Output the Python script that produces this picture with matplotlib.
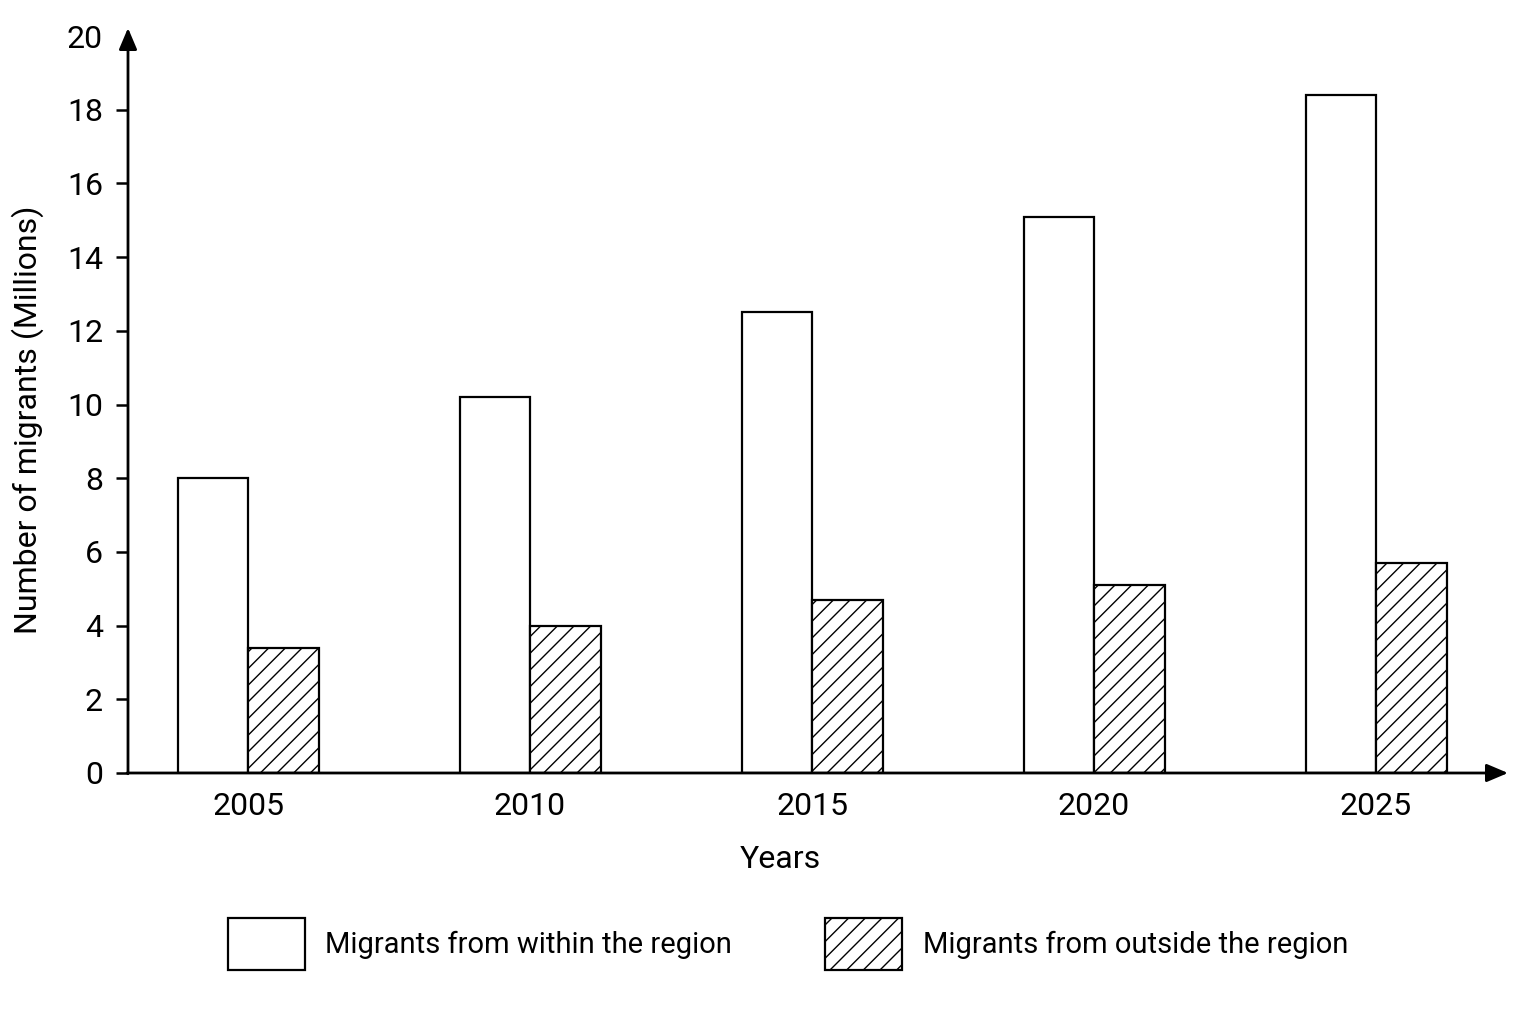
import matplotlib
matplotlib.use("Agg")
import matplotlib.pyplot as plt
from matplotlib.patches import Patch
import numpy as np

years = ["2005", "2010", "2015", "2020", "2025"]
within_region = [8.0, 10.2, 12.5, 15.1, 18.4]
outside_region = [3.4, 4.0, 4.7, 5.1, 5.7]
y_ticks = [0, 2, 4, 6, 8, 10, 12, 14, 16, 18, 20]

plt.rcParams['font.family'] = ['Roboto', 'DejaVu Sans']
plt.rcParams['hatch.linewidth'] = 1.0
plt.rcParams['hatch.color'] = 'black'

W, H = 1536, 1024
fig = plt.figure(figsize=(W / 100, H / 100), dpi=100)

left_px, right_px = 128, 1508
top_px, bottom_px = 28, 773
ax = fig.add_axes([left_px / W, (H - bottom_px) / H,
                   (right_px - left_px) / W, (bottom_px - top_px) / H])

x = np.arange(len(years))
w = 0.25
ax.bar(x - w / 2, within_region, width=w, facecolor='white', edgecolor='black', linewidth=1.6,
       label='Migrants from within the region', zorder=3)
ax.bar(x + w / 2, outside_region, width=w, facecolor='white', edgecolor='black', linewidth=1.6,
       hatch='//', label='Migrants from outside the region', zorder=3)

x0_px, dx_px = 248, 282
ax.set_xlim((left_px - x0_px) / dx_px, (right_px - x0_px) / dx_px)
y20_px = 36
ax.set_ylim(0, 20 * (bottom_px - top_px) / (bottom_px - y20_px))

ax.set_xticks(x)
ax.set_xticklabels(years, fontsize=23)
ax.set_yticks(y_ticks)
ax.set_yticklabels([str(v) for v in y_ticks], fontsize=23)
ax.tick_params(axis='x', length=0, pad=14)
ax.tick_params(axis='y', length=9, width=1.8, pad=9, direction='out')
ax.yaxis.get_major_ticks()[-1].tick1line.set_visible(False)

for s in ax.spines.values():
    s.set_visible(False)

arrow_kw = dict(arrowstyle='-|>,head_length=1.3,head_width=0.55', color='black', lw=2.0,
                shrinkA=0, shrinkB=0)
ax.annotate('', xy=(0, 1), xytext=(0, -0.001), xycoords='axes fraction',
            arrowprops=arrow_kw, annotation_clip=False, zorder=5)
ax.annotate('', xy=(1, 0), xytext=(-0.0007, 0), xycoords='axes fraction',
            arrowprops=arrow_kw, annotation_clip=False, zorder=5)

ax.set_xlabel('Years', fontsize=23)
ax.xaxis.set_label_coords((780 - left_px) / (right_px - left_px), -(860 - bottom_px) / (bottom_px - top_px))
ax.xaxis.label.set_verticalalignment('center')
ax.set_ylabel('Number of migrants (Millions)', fontsize=23)
ax.yaxis.set_label_coords(-(left_px - 28) / (right_px - left_px), (bottom_px - 420) / (bottom_px - top_px))
ax.yaxis.label.set_verticalalignment('center')

handles = [Patch(facecolor='white', edgecolor='black', linewidth=1.6),
           Patch(facecolor='white', edgecolor='black', linewidth=1.6, hatch='//')]
fig.legend(handles, ['Migrants from within the region', 'Migrants from outside the region'],
           loc='center', bbox_to_anchor=(788 / W, 1 - 944 / H), ncol=2, frameon=False,
           fontsize=21, handlelength=2.64, handleheight=2.35, handletextpad=0.7,
           columnspacing=3.2)

fig.savefig('out.png', dpi=100, facecolor='white')
